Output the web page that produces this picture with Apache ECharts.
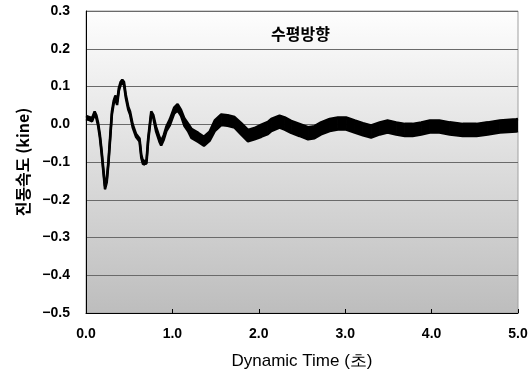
<!DOCTYPE html>
<html>
<head>
<meta charset="utf-8">
<script src="https://cdn.jsdelivr.net/npm/echarts@6/dist/echarts.min.js"></script>
<style>
  html, body { margin: 0; padding: 0; background: #fff; }
  #chart { width: 531px; height: 376px; }
</style>
</head>
<body>
<div id="chart"></div>
<script>
// time (s) and the upper / lower envelope of the velocity trace (kine)
var timeSec = [0.00, 0.04, 0.07, 0.10, 0.12, 0.14, 0.16, 0.18, 0.20, 0.22, 0.24, 0.26, 0.28, 0.30, 0.32, 0.34, 0.36, 0.38, 0.40, 0.42,
  0.44, 0.46, 0.49, 0.51, 0.54, 0.58, 0.62, 0.64, 0.66, 0.68, 0.70, 0.72, 0.755, 0.78, 0.81, 0.85, 0.87, 0.90, 0.93, 0.97,
  1.02, 1.06, 1.10, 1.14, 1.18, 1.22, 1.30, 1.365, 1.43, 1.49, 1.565, 1.64, 1.72, 1.80, 1.875, 1.95, 2.03, 2.105, 2.145, 2.24,
  2.30, 2.375, 2.47, 2.57, 2.645, 2.72, 2.82, 2.915, 3.01, 3.11, 3.205, 3.30, 3.40, 3.49, 3.59, 3.69, 3.78, 3.88, 3.98, 4.09,
  4.21, 4.36, 4.52, 4.65, 4.79, 4.98, 5.00]
var velUpper = [0.022, 0.019, 0.016, 0.034, 0.024, 0.004, -0.026, -0.068, -0.116, -0.164, -0.146, -0.096, -0.031, 0.034, 0.062, 0.076, 0.059, 0.096, 0.112, 0.118,
  0.112, 0.079, 0.046, 0.034, 0.000, -0.026, -0.038, -0.081, -0.098, -0.100, -0.096, -0.036, 0.034, 0.024, -0.006, -0.034, -0.044, -0.029, -0.006, 0.013,
  0.044, 0.053, 0.038, 0.015, 0.002, -0.012, -0.023, -0.033, -0.020, 0.010, 0.026, 0.024, 0.019, 0.002, -0.015, -0.010, -0.001, 0.006, 0.014, 0.023,
  0.018, 0.009, 0.001, -0.008, -0.005, 0.005, 0.014, 0.018, 0.018, 0.010, 0.003, -0.003, 0.005, 0.010, 0.005, 0.001, 0.001, 0.005, 0.010, 0.010,
  0.005, 0.001, 0.001, 0.005, 0.010, 0.013, 0.014]
var velLower = [0.014, 0.011, 0.008, 0.026, 0.016, -0.004, -0.034, -0.076, -0.124, -0.172, -0.154, -0.104, -0.039, 0.026, 0.054, 0.068, 0.051, 0.088, 0.104, 0.110,
  0.104, 0.071, 0.038, 0.026, -0.008, -0.034, -0.046, -0.089, -0.106, -0.108, -0.104, -0.044, 0.026, 0.016, -0.018, -0.046, -0.056, -0.041, -0.018, -0.003,
  0.028, 0.037, 0.022, -0.005, -0.018, -0.036, -0.047, -0.057, -0.044, -0.018, -0.002, -0.004, -0.009, -0.028, -0.045, -0.040, -0.033, -0.026, -0.018, -0.009,
  -0.014, -0.023, -0.031, -0.040, -0.037, -0.027, -0.018, -0.014, -0.014, -0.022, -0.029, -0.035, -0.027, -0.022, -0.027, -0.031, -0.031, -0.027, -0.022, -0.022,
  -0.027, -0.031, -0.031, -0.027, -0.022, -0.019, -0.018]

var chartTitle = '수평방향'
var xName = 'Dynamic Time (초)'
var yName = '진동속도 (kine)'

var chart = echarts.init(document.getElementById('chart'))

// one row per segment: [t0, lo0, up0, t1, lo1, up1]
var bandSegs = []
for (var i = 0; i < timeSec.length - 1; i++) {
  bandSegs.push([timeSec[i], velLower[i], velUpper[i], timeSec[i + 1], velLower[i + 1], velUpper[i + 1]])
}

function renderBand (params, api) {
  var a = api.coord([api.value(0), api.value(1)])
  var b = api.coord([api.value(3), api.value(4)])
  var c = api.coord([api.value(3), api.value(5)])
  var d = api.coord([api.value(0), api.value(2)])
  return {
    type: 'polygon',
    shape: { points: [a, b, c, d] },
    style: { fill: '#000', stroke: '#000', lineWidth: 1 }
  }
}

var labelFont = {
  color: '#000',
  fontFamily: 'Liberation Sans',
  fontWeight: 'bold',
  fontSize: 14
}

chart.setOption({
  animation: false,
  title: {
    text: chartTitle,
    left: 266,
    top: 21,
    textStyle: {
      fontFamily: 'Noto Sans CJK KR',
      fontWeight: 'bold',
      fontSize: 16,
      color: '#000'
    }
  },
  grid: {
    left: 86,
    right: 13,
    top: 11,
    bottom: 63,
    show: true,
    borderColor: '#a0a0a0',
    borderWidth: 1,
    backgroundColor: new echarts.graphic.LinearGradient(0, 0, 0, 1, [
      { offset: 0, color: '#fefefe' },
      { offset: 1, color: '#bdbdbd' }
    ])
  },
  xAxis: {
    type: 'value',
    min: 0,
    max: 5,
    interval: 1,
    name: xName,
    nameLocation: 'middle',
    nameGap: 40,
    nameTextStyle: {
      fontFamily: 'Liberation Sans',
      fontSize: 17,
      color: '#000'
    },
    axisLine: { onZero: false, lineStyle: { color: '#000', width: 1 } },
    axisTick: { inside: true, length: 4, lineStyle: { color: '#000' } },
    axisLabel: Object.assign({
      margin: 14,
      formatter: function (v) { return v.toFixed(1) }
    }, labelFont),
    splitLine: { show: false }
  },
  yAxis: {
    type: 'value',
    min: -0.5,
    max: 0.3,
    interval: 0.1,
    name: yName,
    nameLocation: 'middle',
    nameGap: 55,
    nameTextStyle: {
      fontFamily: 'Noto Sans CJK KR',
      fontSize: 16,
      fontWeight: 'bold',
      color: '#000'
    },
    axisLine: { show: true, lineStyle: { color: '#000', width: 1 } },
    axisTick: { show: false },
    axisLabel: Object.assign({
      margin: 16,
      formatter: function (v) { return v.toFixed(1).replace('-', '\u2212') }
    }, labelFont),
    splitLine: { lineStyle: { color: '#6a6a6a', width: 1 } }
  },
  series: [
    {
      name: 'band',
      type: 'custom',
      renderItem: renderBand,
      data: bandSegs,
      encode: { x: [0, 3], y: [1, 2, 4, 5] },
      clip: true
    },
    {
      name: 'upper',
      type: 'line',
      data: timeSec.map(function (t, i) { return [t, velUpper[i]] }),
      showSymbol: false,
      lineStyle: { color: '#000', width: 2.5 }
    },
    {
      name: 'lower',
      type: 'line',
      data: timeSec.map(function (t, i) { return [t, velLower[i]] }),
      showSymbol: false,
      lineStyle: { color: '#000', width: 2.5 }
    }
  ]
})
</script>
</body>
</html>
